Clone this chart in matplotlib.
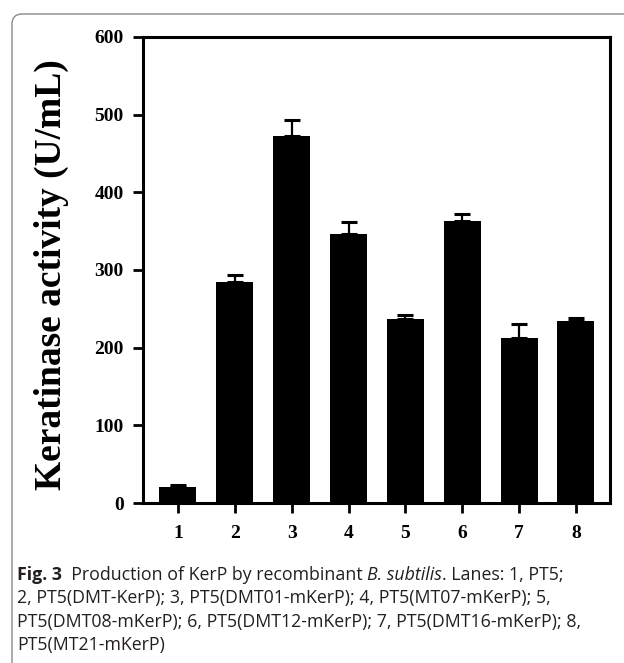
import matplotlib
matplotlib.use("Agg")
import matplotlib.pyplot as plt
from matplotlib.patches import FancyBboxPatch

# lanes and keratinase activity (U/mL)
lanes = ["1", "2", "3", "4", "5", "6", "7", "8"]
activity = [21, 285, 473, 346, 237, 363, 213, 234]
err_up = [2, 8, 20, 16, 5, 9, 18, 4]

yticks = [0, 100, 200, 300, 400, 500, 600]

cap_lines = [
    [("Fig. 3", "bold", "normal"), ("  Production of KerP by recombinant ", "normal", "normal"),
     ("B. subtilis", "normal", "italic"), (". Lanes: 1, PT5;", "normal", "normal")],
    [("2, PT5(DMT-KerP); 3, PT5(DMT01-mKerP); 4, PT5(MT07-mKerP); 5,", "normal", "normal")],
    [("PT5(DMT08-mKerP); 6, PT5(DMT12-mKerP); 7, PT5(DMT16-mKerP); 8,", "normal", "normal")],
    [("PT5(MT21-mKerP)", "normal", "normal")],
]

W, H = 624, 663
fig = plt.figure(figsize=(W / 100, H / 100), dpi=100)
ax = fig.add_axes([143 / W, 1 - 503 / H, (610 - 143) / W, (503 - 37) / H])

x = list(range(1, len(lanes) + 1))
ax.bar(x, activity, width=0.65, color="black", zorder=2)
ax.errorbar(x, activity, yerr=[[0] * len(x), err_up], fmt="none", ecolor="black",
            elinewidth=1.6, capsize=6, capthick=2.2, zorder=1)

ax.set_xlim(0.385, 8.6)
ax.set_ylim(0, 600)
ax.set_yticks(yticks)
ax.set_xticks(x)
ax.set_xticklabels(lanes)

for s in ax.spines.values():
    s.set_linewidth(2.2)
ax.tick_params(axis="both", direction="out", length=7, width=2.0)
ax.tick_params(axis="y", pad=7)
ax.tick_params(axis="x", pad=9)
for lab in ax.get_xticklabels() + ax.get_yticklabels():
    lab.set_fontfamily("Liberation Serif")
    lab.set_fontweight("bold")
    lab.set_fontsize(14)

ax.set_ylabel("Keratinase activity (U/mL)", fontfamily="Liberation Serif",
              fontweight="bold", fontsize=27)
ax.yaxis.set_label_coords(-0.158, 0.49)

# frame round the whole figure panel (runs off the right and bottom edges)
frame = FancyBboxPatch((12, -50), 700, H - 14 + 50, boxstyle="round,pad=0,rounding_size=10",
                       fill=False, edgecolor="#8a8a8a", linewidth=1.0)
frame.set_transform(None)
fig.patches.append(frame)

# caption, built piece by piece
fig.canvas.draw()
renderer = fig.canvas.get_renderer()
y0 = 575
for line in cap_lines:
    xpos = 17
    for txt, wt, st in line:
        t = fig.text(xpos / W, 1 - y0 / H, txt, fontfamily="Open Sans", fontsize=12.8,
                     fontweight=wt, fontstyle=st, color="#231f20", va="center", ha="left")
        bb = t.get_window_extent(renderer=renderer)
        xpos += bb.width
    y0 += 23.3

fig.savefig("out.png", dpi=100)
